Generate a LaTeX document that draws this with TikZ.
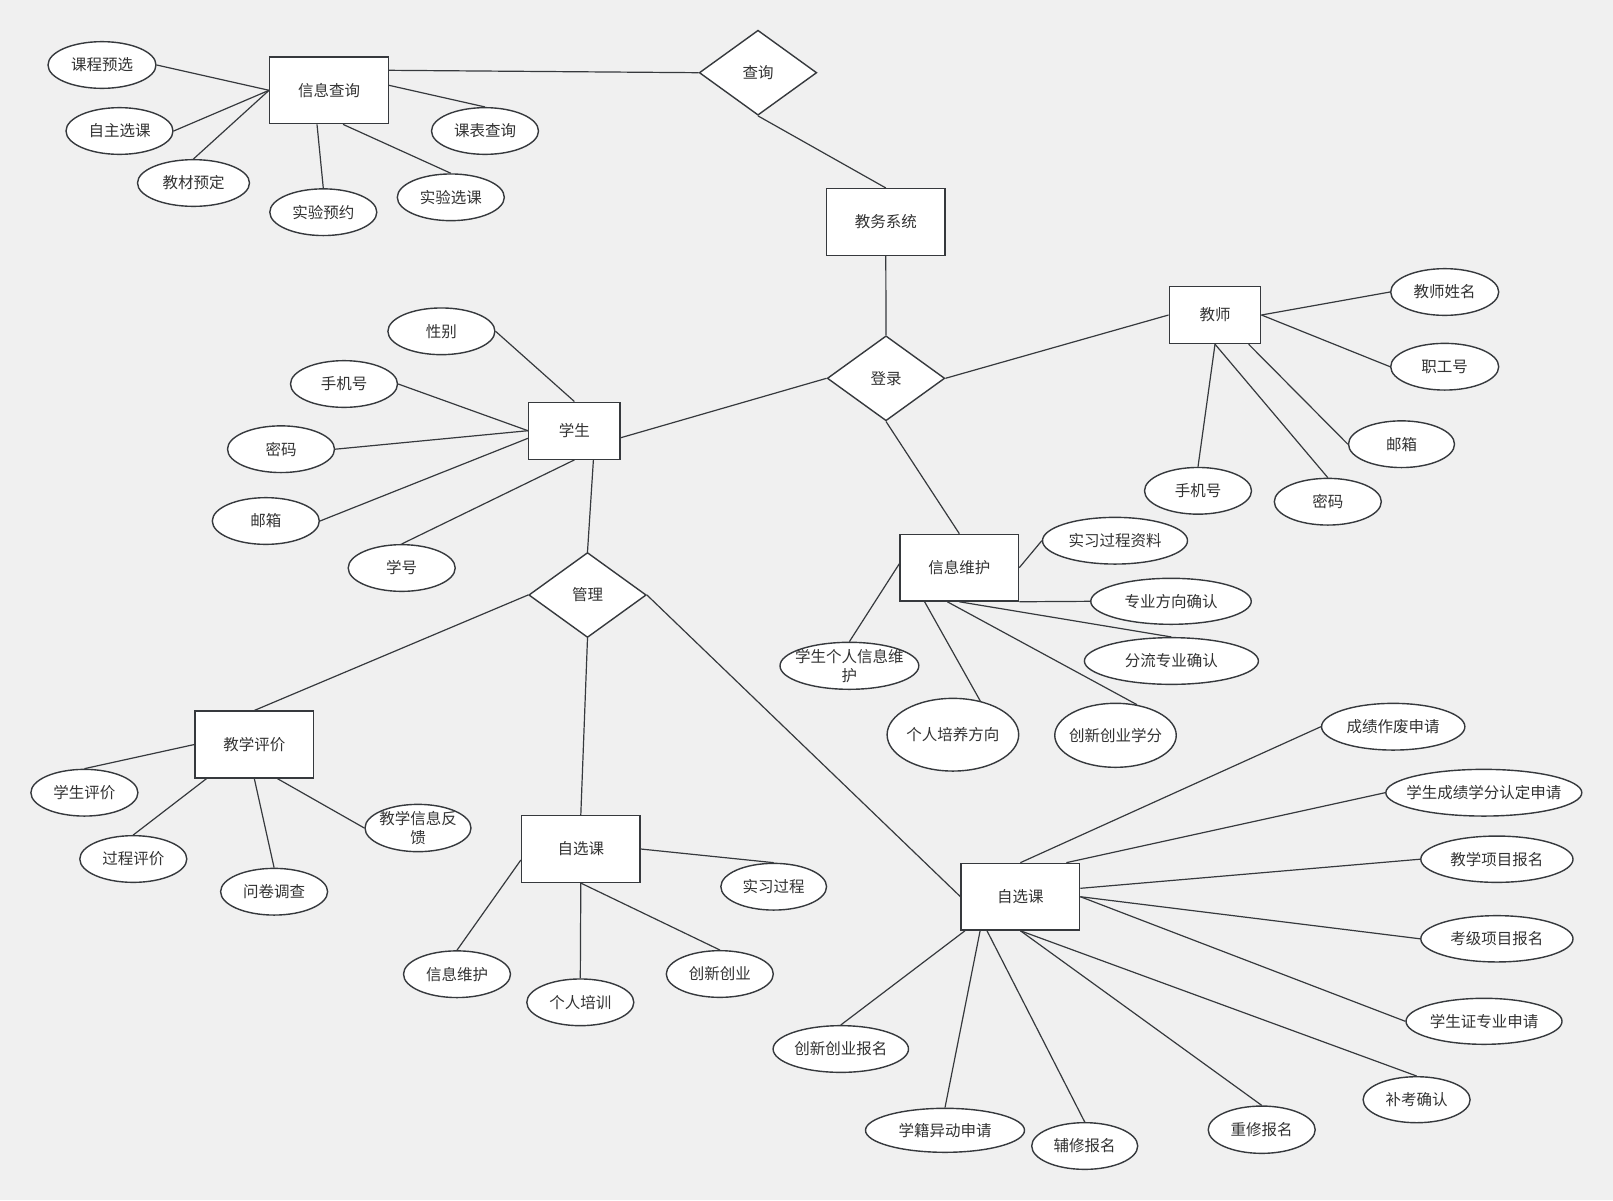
\documentclass[tikz,border=0pt]{standalone}
\usepackage{fontspec}
\setmainfont{Noto Sans CJK SC}
\usetikzlibrary{shapes.geometric}
\definecolor{bg}{RGB}{240,240,240}
\definecolor{ln}{RGB}{54,57,61}
\definecolor{tx}{RGB}{51,51,51}
\begin{document}
\begin{tikzpicture}[x=1pt,y=-1pt,
  every node/.style={font=\fontsize{15.5}{19.5}\selectfont, text=tx},
  ent/.style={draw=ln, fill=white, line width=1.4pt, minimum width=118.5pt, minimum height=66.7pt, inner sep=0pt},
  ent2/.style={ent, minimum width=91.5pt, minimum height=57pt},
  rel/.style={diamond, draw=ln, fill=white, line width=1.4pt, minimum width=117.5pt, minimum height=85pt, inner sep=0pt},
  attr/.style={ellipse, draw=ln, fill=white, line width=1.4pt, minimum width=107pt, minimum height=46.7pt, inner sep=-15pt, align=center},
  lk/.style={draw=ln, line width=1.2pt}
]
\fill[bg] (0,0) rectangle (1613,1200);
\useasboundingbox (0,0) rectangle (1613,1200);

% entities
\node[ent] (xq) at (329,90.3) {信息查询};
\node[ent] (jw) at (885.8,222) {教务系统};
\node[ent2] (js) at (1215,315) {教师};
\node[ent2] (xs) at (574.4,430.7) {学生};
\node[ent] (wh) at (959.3,567.7) {信息维护};
\node[ent] (pj) at (254.3,744.5) {教学评价};
\node[ent] (z1) at (580.8,849) {自选课};
\node[ent] (z2) at (1020.4,896.7) {自选课};

% relations
\node[rel] (cx) at (758,72.7) {查询};
\node[rel] (dl) at (886,378.3) {登录};
\node[rel] (gl) at (587.5,595) {管理};

% attributes
\node[attr, minimum width=108pt] (a1) at (102,65) {课程预选};
\node[attr] (a2) at (119.5,131) {自主选课};
\node[attr, minimum width=112pt] (a3) at (193.5,183) {教材预定};
\node[attr] (a4) at (323.3,212.2) {实验预约};
\node[attr] (a5) at (450.8,197.3) {实验选课};
\node[attr] (a6) at (485,131) {课表查询};

\node[attr] (b1) at (441.4,331.3) {性别};
\node[attr] (b2) at (344,384) {手机号};
\node[attr] (b3) at (281,449.2) {密码};
\node[attr] (b4) at (265.8,521) {邮箱};
\node[attr] (b5) at (401.7,568) {学号};

\node[attr, minimum width=108pt] (t1) at (1444.7,292) {教师姓名};
\node[attr, minimum width=108pt] (t2) at (1444.7,366.7) {职工号};
\node[attr, minimum width=106pt] (t3) at (1401.5,444.2) {邮箱};
\node[attr] (t4) at (1198,490.8) {手机号};
\node[attr] (t5) at (1327.8,501.7) {密码};

\node[attr, minimum width=145pt] (w1) at (1115,540.7) {实习过程资料};
\node[attr, minimum width=160.5pt, minimum height=46pt] (w2) at (1171,601.3) {专业方向确认};
\node[attr, minimum width=174pt] (w3) at (1171.4,661) {分流专业确认};
\node[attr, minimum width=121.5pt, minimum height=64pt] (w4) at (1115.5,735.3) {创新创业学分};
\node[attr, minimum width=131.6pt, minimum height=72.7pt] (w5) at (952.9,734.7) {个人培养方向};
\node[attr, minimum width=138.8pt, minimum height=47pt] (w6) at (849.4,665.8) {学生个人信息维\\护};

\node[attr] (p1) at (84.4,792.7) {学生评价};
\node[attr] (p2) at (133.3,859) {过程评价};
\node[attr] (p3) at (274.1,891.7) {问卷调查};
\node[attr, minimum width=106pt, minimum height=47.3pt] (p4) at (418,828) {教学信息反\\馈};

\node[attr] (s1) at (457,974.2) {信息维护};
\node[attr] (s2) at (580.3,1002.3) {个人培训};
\node[attr] (s3) at (719.8,974) {创新创业};
\node[attr, minimum width=105.7pt] (s4) at (773.7,886.7) {实习过程};

\node[attr, minimum width=143.3pt] (c1) at (1393.2,726.7) {成绩作废申请};
\node[attr, minimum width=196pt] (c2) at (1483.8,792.7) {学生成绩学分认定申请};
\node[attr, minimum width=152.2pt, minimum height=46.3pt] (c3) at (1496.9,859.2) {教学项目报名};
\node[attr, minimum width=152.2pt, minimum height=46.3pt] (c4) at (1496.9,938.8) {考级项目报名};
\node[attr, minimum width=156pt, minimum height=46pt] (c5) at (1484,1021.3) {学生证专业申请};
\node[attr, minimum height=46pt] (c6) at (1416.6,1099.7) {补考确认};
\node[attr, minimum height=47.3pt] (c7) at (1261.7,1129.7) {重修报名};
\node[attr, minimum width=106pt] (c8) at (1084.7,1146) {辅修报名};
\node[attr, minimum width=159pt, minimum height=44pt] (c9) at (945,1130.3) {学籍异动申请};
\node[attr, minimum width=135.4pt] (c10) at (840.8,1049) {创新创业报名};

% connectors
\path[lk] (a1.east) -- (xq.west);
\path[lk] (a2.east) -- (xq.west);
\path[lk] (a3.north) -- (xq.west);
\path[lk] (a4.north) -- ([xshift=-12pt]xq.south);
\path[lk] (a5.north) -- ([xshift=14pt]xq.south);
\path[lk] (a6.north) -- ([yshift=5pt]xq.east);
\path[lk] ([yshift=20pt]xq.east) -- (cx.west);
\path[lk] (cx.south) -- (jw.north);
\path[lk] (jw.south) -- (dl.north);
\path[lk] (dl.east) -- (js.west);
\path[lk] (dl.west) -- ([yshift=-7pt]xs.east);
\path[lk] (js.east) -- (t1.west);
\path[lk] (js.east) -- (t2.west);
\path[lk] (js.south) -- (t4.north);
\path[lk] (js.south) -- (t5.north);
\path[lk] ([xshift=33.6pt]js.south) -- (t3.west);
\path[lk] (dl.south) -- (wh.north);
\path[lk] (w6.north) -- ([yshift=4pt]wh.west);
\path[lk] (wh.east) -- (w1.west);
\path[lk] (wh.south east) -- (w2.west);
\path[lk] (wh.south) -- (w3.north);
\path[lk] ([xshift=-12pt]wh.south) -- (w4.55);
\path[lk] ([xshift=-34.7pt]wh.south) -- (w5.51);
\path[lk] (b1.east) -- (xs.north);
\path[lk] (b2.east) -- (xs.west);
\path[lk] (b3.east) -- (xs.west);
\path[lk] (b4.east) -- ([yshift=-7.6pt]xs.west);
\path[lk] (b5.north) -- (xs.south);
\path[lk] ([xshift=19pt]xs.south) -- (gl.north);
\path[lk] (gl.west) -- (pj.north);
\path[lk] (gl.south) -- (z1.north);
\path[lk] (gl.east) -- (z2.west);
\path[lk] (pj.west) -- (p1.north);
\path[lk] ([xshift=-47.7pt]pj.south) -- (p2.north);
\path[lk] (pj.south) -- (p3.north);
\path[lk] ([xshift=23pt]pj.south) -- (p4.west);
\path[lk] ([yshift=-11pt]z1.west) -- (s1.north);
\path[lk] (z1.south) -- (s2.north);
\path[lk] (z1.south) -- (s3.north);
\path[lk] (z1.east) -- (s4.north);
\path[lk] ([xshift=4.5pt]z2.south west) -- (c10.north);
\path[lk] ([xshift=-40.3pt]z2.south) -- (c9.north);
\path[lk] ([xshift=-33.4pt]z2.south) -- (c8.north);
\path[lk] (z2.south) -- (c7.north);
\path[lk] (z2.south) -- (c6.north);
\path[lk] (z2.east) -- (c5.west);
\path[lk] (z2.east) -- (c4.west);
\path[lk] ([yshift=8.4pt]z2.east) -- (c3.west);
\path[lk] ([xshift=-14pt]z2.north east) -- (c2.west);
\path[lk] (z2.north) -- (c1.west);
\end{tikzpicture}
\end{document}
